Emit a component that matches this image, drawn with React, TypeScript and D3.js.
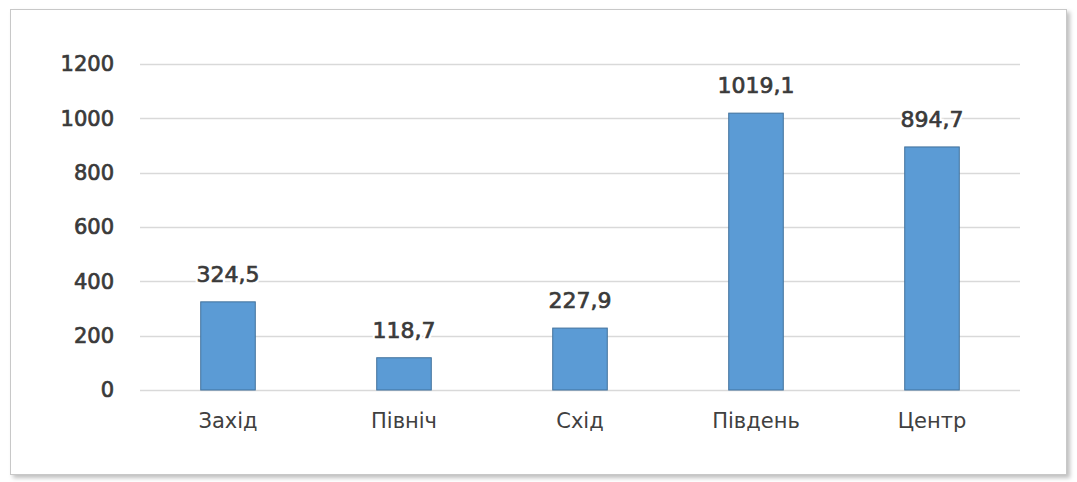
import React, { useEffect, useRef } from 'react';
import * as d3 from 'd3';

const categories = ['Захід', 'Північ', 'Схід', 'Південь', 'Центр'];
const values = [324.5, 118.7, 227.9, 1019.1, 894.7];
const yTicks = [0, 200, 400, 600, 800, 1000, 1200];

const W = 1077;
const H = 482;

const App: React.FC = () => {
  const svgRef = useRef<SVGSVGElement>(null);

  useEffect(() => {
    if (!svgRef.current) return;
    const svg = d3.select(svgRef.current);
    svg.selectAll('*').remove();

    const margin = { top: 64, right: 57, bottom: 92, left: 140 };

    // frame with soft shadow
    const defs = svg.append('defs');
    const f = defs.append('filter').attr('id', 'sh').attr('x', '-5%').attr('y', '-5%').attr('width', '110%').attr('height', '110%');
    f.append('feDropShadow').attr('dx', 3).attr('dy', 3).attr('stdDeviation', 2).attr('flood-color', '#000').attr('flood-opacity', 0.25);

    svg.append('rect')
      .attr('x', 10.5).attr('y', 9.5)
      .attr('width', 1056).attr('height', 465)
      .attr('fill', '#fff')
      .attr('stroke', '#c8c8c8')
      .attr('filter', 'url(#sh)');

    const x = d3.scaleBand<string>()
      .domain(categories)
      .range([margin.left, W - margin.right])
      .paddingInner(0.69)
      .paddingOuter(0.345);

    const y = d3.scaleLinear()
      .domain([0, 1200])
      .range([H - margin.bottom, margin.top]);

    // gridlines
    svg.append('g')
      .selectAll('line')
      .data(yTicks)
      .enter()
      .append('line')
      .attr('x1', margin.left)
      .attr('x2', W - margin.right)
      .attr('y1', d => Math.round(y(d)) + 0.5)
      .attr('y2', d => Math.round(y(d)) + 0.5)
      .attr('stroke', '#d9d9d9')
      .attr('stroke-width', 1.3);

    // y labels
    svg.append('g')
      .selectAll('text')
      .data(yTicks)
      .enter()
      .append('text')
      .attr('x', 114)
      .attr('y', d => y(d))
      .attr('dy', '0.35em')
      .attr('text-anchor', 'end')
      .attr('font-family', 'DejaVu Sans')
      .attr('font-size', 21)
      .attr('fill', '#3a3a3a')
      .attr('stroke', '#3a3a3a')
      .attr('stroke-width', 0.7)
      .text(d => d);

    const data = categories.map((c, i) => ({ c, v: values[i] }));

    // bars
    svg.append('g')
      .selectAll('rect')
      .data(data)
      .enter()
      .append('rect')
      .attr('x', d => x(d.c) as number)
      .attr('y', d => y(d.v))
      .attr('width', x.bandwidth())
      .attr('height', d => y(0) - y(d.v))
      .attr('fill', '#5b9bd5')
      .attr('stroke', '#41719c')
      .attr('stroke-width', 1);

    // value labels: white halo first, then the text
    const label = (d: { c: string; v: number }) => d.v.toFixed(1).replace('.', ',');
    const lx = (d: { c: string; v: number }) => (x(d.c) as number) + x.bandwidth() / 2;
    const ly = (d: { c: string; v: number }) => y(d.v) - 20;

    svg.append('g')
      .selectAll('text')
      .data(data)
      .enter()
      .append('text')
      .attr('x', lx)
      .attr('y', ly)
      .attr('text-anchor', 'middle')
      .attr('font-family', 'DejaVu Sans')
      .attr('font-size', 22)
      .attr('fill', '#fff')
      .attr('stroke', '#fff')
      .attr('stroke-width', 5)
      .text(label);

    svg.append('g')
      .selectAll('text')
      .data(data)
      .enter()
      .append('text')
      .attr('x', lx)
      .attr('y', ly)
      .attr('text-anchor', 'middle')
      .attr('font-family', 'DejaVu Sans')
      .attr('font-size', 22)
      .attr('fill', '#3a3a3a')
      .attr('stroke', '#3a3a3a')
      .attr('stroke-width', 0.7)
      .text(label);

    // category labels
    svg.append('g')
      .selectAll('text')
      .data(categories)
      .enter()
      .append('text')
      .attr('x', d => (x(d) as number) + x.bandwidth() / 2)
      .attr('y', 428)
      .attr('text-anchor', 'middle')
      .attr('font-family', 'DejaVu Sans')
      .attr('font-size', 21)
      .attr('fill', '#404040')
      .text(d => d);
  }, []);

  return (
    <div style={{ position: 'absolute', left: 0, top: 0 }}>
      <svg ref={svgRef} width={W} height={H} style={{ display: 'block' }} />
    </div>
  );
};

export default App;
